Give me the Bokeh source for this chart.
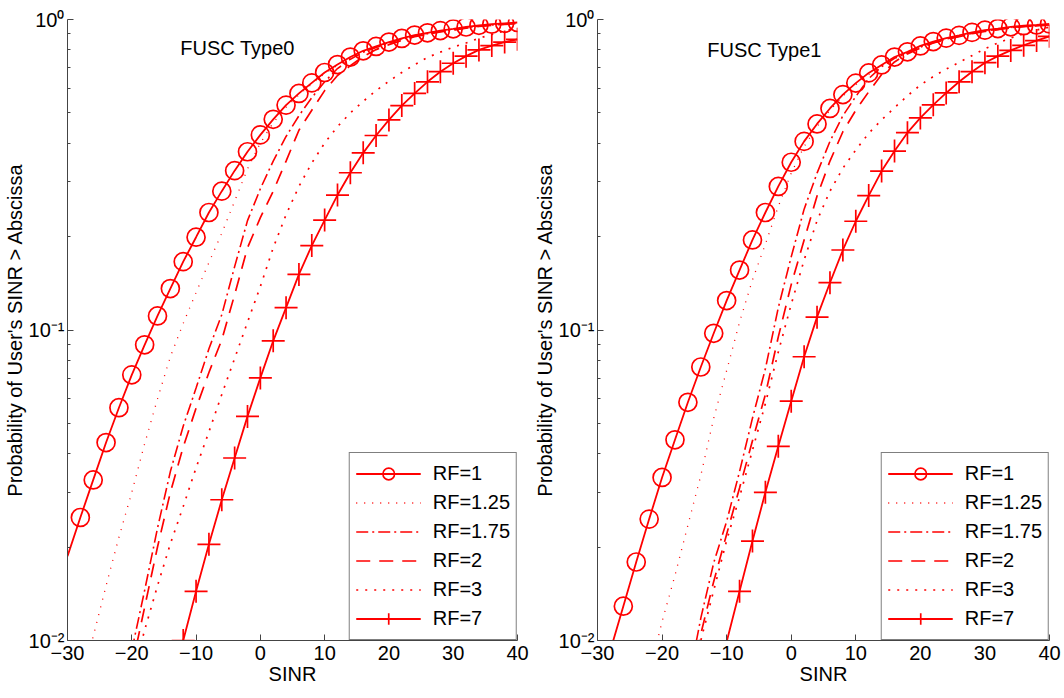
from bokeh.plotting import figure
from bokeh.models import Range1d, FixedTicker, Label, CustomJSTickFormatter
from bokeh.layouts import row
from bokeh.embed import file_html
from bokeh.resources import INLINE

FONT = "Liberation Sans"
RED = "#ff0000"

# ---------------- data ----------------
X_TICKS = [-30, -20, -10, 0, 10, 20, 30, 40]
Y_TICKS = [0.01, 0.1, 1.0]
Y_TICK_LABELS = ["10\u207b\u00b2", "10\u207b\u00b9", "10\u2070"]
Y_MINOR = [0.02, 0.03, 0.04, 0.05, 0.06, 0.07, 0.08, 0.09,
           0.2, 0.3, 0.4, 0.5, 0.6, 0.7, 0.8, 0.9]
LABELS = ["RF=1", "RF=1.25", "RF=1.75", "RF=2", "RF=3", "RF=7"]
TITLES = ["FUSC Type0", "FUSC Type1"]
X_LABEL = "SINR"
Y_LABEL = "Probability of User's SINR > Abscissa"

# FUSC Type0
t0_x_rf1 = list(range(-30, 42, 2))
t0_rf1 = [0.0187, 0.0249, 0.0329, 0.0434, 0.0562, 0.0717, 0.0896, 0.111, 0.136, 0.166,
          0.199, 0.239, 0.280, 0.326, 0.375, 0.425, 0.477, 0.530, 0.578, 0.625,
          0.675, 0.716, 0.757, 0.793, 0.819, 0.846, 0.869, 0.891, 0.906, 0.921,
          0.933, 0.946, 0.958, 0.966, 0.972, 0.978]
t0_x_rf125 = list(range(-28, 42, 2))
t0_rf125 = [0.0072, 0.0103, 0.0150, 0.0215, 0.030, 0.043, 0.060, 0.082, 0.105, 0.132,
            0.165, 0.205, 0.26, 0.33, 0.40, 0.465, 0.522, 0.572, 0.62, 0.67,
            0.711, 0.752, 0.788, 0.815, 0.842, 0.865, 0.887, 0.902, 0.917, 0.929,
            0.942, 0.954, 0.962, 0.968, 0.974]
t0_x_rf175 = list(range(-20, 42, 2))
t0_rf175 = [0.0093, 0.0145, 0.023, 0.035, 0.049, 0.065, 0.087, 0.112, 0.160, 0.225,
            0.285, 0.35, 0.42, 0.49, 0.56, 0.63, 0.695, 0.745, 0.785, 0.812,
            0.84, 0.863, 0.885, 0.9, 0.915, 0.927, 0.94, 0.952, 0.96, 0.966, 0.972]
t0_x_rf2 = list(range(-20, 42, 2))
t0_rf2 = [0.0082, 0.0128, 0.020, 0.030, 0.042, 0.056, 0.073, 0.093, 0.13, 0.184,
          0.23, 0.28, 0.35, 0.44, 0.51, 0.59, 0.66, 0.71, 0.76, 0.80,
          0.83, 0.856, 0.88, 0.896, 0.912, 0.925, 0.938, 0.95, 0.958, 0.964, 0.97]
t0_x_rf3 = list(range(-20, 42, 2))
t0_rf3 = [0.0075, 0.0108, 0.0150, 0.0205, 0.027, 0.036, 0.047, 0.062, 0.081, 0.106,
          0.138, 0.184, 0.235, 0.29, 0.345, 0.40, 0.452, 0.50, 0.545, 0.59,
          0.633, 0.675, 0.715, 0.755, 0.785, 0.815, 0.84, 0.87, 0.895, 0.92, 0.94]
t0_x_rf7 = list(range(-12, 42, 2))
t0_rf7 = [0.0100, 0.0144, 0.0204, 0.0284, 0.0387, 0.0527, 0.0701, 0.0923, 0.118, 0.151,
          0.187, 0.226, 0.272, 0.321, 0.372, 0.423, 0.475, 0.528, 0.578, 0.630,
          0.679, 0.723, 0.762, 0.798, 0.824, 0.846, 0.863]

# FUSC Type1
t1_x_rf1 = list(range(-28, 42, 2))
t1_rf1 = [0.0093, 0.0129, 0.0179, 0.0246, 0.0335, 0.0443, 0.0585, 0.076, 0.0976, 0.1244,
          0.156, 0.195, 0.239, 0.290, 0.347, 0.405, 0.461, 0.517, 0.573, 0.624,
          0.673, 0.714, 0.757, 0.787, 0.822, 0.849, 0.871, 0.889, 0.909, 0.924,
          0.935, 0.947, 0.955, 0.960, 0.968]
t1_x_rf125 = list(range(-22, 42, 2))
t1_rf125 = [0.0078, 0.0115, 0.0162, 0.0235, 0.034, 0.052, 0.074, 0.106, 0.145, 0.189,
            0.25, 0.32, 0.39, 0.452, 0.51, 0.566, 0.617, 0.665, 0.707, 0.75,
            0.781, 0.816, 0.843, 0.866, 0.884, 0.904, 0.919, 0.93, 0.942, 0.95,
            0.955, 0.963]
t1_x_rf175 = list(range(-16, 42, 2))
t1_rf175 = [0.0072, 0.0118, 0.0178, 0.0242, 0.035, 0.052, 0.075, 0.118, 0.172, 0.245,
            0.32, 0.405, 0.49, 0.565, 0.645, 0.705, 0.75, 0.78, 0.815, 0.842,
            0.865, 0.883, 0.902, 0.918, 0.929, 0.941, 0.949, 0.954, 0.962]
t1_x_rf2 = list(range(-16, 42, 2))
t1_rf2 = [0.0065, 0.0105, 0.0155, 0.022, 0.031, 0.044, 0.062, 0.095, 0.14, 0.195,
          0.27, 0.35, 0.435, 0.51, 0.585, 0.665, 0.73, 0.775, 0.81, 0.84,
          0.862, 0.88, 0.9, 0.915, 0.927, 0.94, 0.948, 0.954, 0.96]
t1_x_rf3 = list(range(-16, 42, 2))
t1_rf3 = [0.0068, 0.0100, 0.0145, 0.021, 0.029, 0.041, 0.058, 0.085, 0.121, 0.168,
          0.225, 0.28, 0.332, 0.38, 0.43, 0.475, 0.52, 0.568, 0.615, 0.655,
          0.692, 0.728, 0.765, 0.805, 0.84, 0.872, 0.9, 0.925, 0.945]
t1_x_rf7 = list(range(-10, 42, 2))
t1_rf7 = [0.0099, 0.0144, 0.0209, 0.030, 0.0422, 0.059, 0.082, 0.110, 0.142, 0.181,
          0.224, 0.271, 0.325, 0.377, 0.432, 0.482, 0.531, 0.580, 0.630, 0.679,
          0.726, 0.762, 0.795, 0.826, 0.855, 0.883]

PANELS = [
    dict(title=TITLES[0],
         series=[(t0_x_rf1, t0_rf1), (t0_x_rf125, t0_rf125), (t0_x_rf175, t0_rf175),
                 (t0_x_rf2, t0_rf2), (t0_x_rf3, t0_rf3), (t0_x_rf7, t0_rf7)],
         rf1_mark_from=1, rf7_mark_from=0,
         width=530, height=698, bl=66, br=13, bt=16, bb=58,
         title_xy=(-12.46, 0.807)),
    dict(title=TITLES[1],
         series=[(t1_x_rf1, t1_rf1), (t1_x_rf125, t1_rf125), (t1_x_rf175, t1_rf175),
                 (t1_x_rf2, t1_rf2), (t1_x_rf3, t1_rf3), (t1_x_rf7, t1_rf7)],
         rf1_mark_from=1, rf7_mark_from=1,
         width=534, height=698, bl=60, br=15, bt=19, bb=54,
         title_xy=(-13.0, 0.80)),
]

STYLES = [
    dict(line_dash="solid", line_width=1.8),
    dict(line_dash="1 7", line_width=1.3),
    dict(line_dash="12 4 2 4", line_width=1.6),
    dict(line_dash="14 9", line_width=1.7),
    dict(line_dash="2 7", line_width=1.7),
    dict(line_dash="solid", line_width=1.8),
]


def make_panel(cfg):
    p = figure(width=cfg["width"], height=cfg["height"], y_axis_type="log",
               x_range=Range1d(-30, 40), y_range=Range1d(0.01, 1.0),
               output_backend="svg", toolbar_location=None,
               min_border_left=cfg["bl"], min_border_right=cfg["br"],
               min_border_top=cfg["bt"], min_border_bottom=cfg["bb"])
    p.outline_line_color = None
    p.background_fill_color = "white"
    p.border_fill_color = "white"
    p.grid.visible = False

    for i, ((xs, ys), lab, st) in enumerate(zip(cfg["series"], LABELS, STYLES)):
        p.line(xs, ys, line_color=RED, legend_label=lab, **st)
        if i == 0:
            k = cfg["rf1_mark_from"]
            p.scatter(xs[k:], ys[k:], marker="circle", size=18, fill_color=None,
                      line_color=RED, line_width=1.7, legend_label=lab)
        if i == 5:
            k = cfg["rf7_mark_from"]
            p.scatter(xs[k:], ys[k:], marker="cross", size=23,
                      line_color=RED, line_width=1.7, legend_label=lab)

    for ax in (p.xaxis[0], p.yaxis[0]):
        ax.axis_line_color = "#444444"
        ax.major_tick_line_color = "#444444"
        ax.minor_tick_line_color = "#444444"
        ax.major_tick_in = 6
        ax.major_tick_out = 0
        ax.minor_tick_in = 3
        ax.minor_tick_out = 0
        ax.major_label_text_font = FONT
        ax.major_label_text_font_size = "20px"
        ax.major_label_text_color = "black"
        ax.axis_label_text_font = FONT
        ax.axis_label_text_font_style = "normal"
        ax.axis_label_text_color = "black"
        ax.axis_label_standoff = 0
    p.xaxis.ticker = FixedTicker(ticks=X_TICKS, minor_ticks=[])
    p.xaxis.major_label_standoff = 5
    p.xaxis.major_label_overrides = {t: str(t).replace("-", "\u2212") for t in X_TICKS}
    p.xaxis.axis_label = X_LABEL
    p.xaxis.axis_label_text_font_size = "20px"
    p.yaxis.ticker = FixedTicker(ticks=Y_TICKS, minor_ticks=Y_MINOR)
    p.yaxis.major_label_standoff = 3
    p.yaxis.formatter = CustomJSTickFormatter(
        args=dict(tick_vals=Y_TICKS, tick_texts=Y_TICK_LABELS),
        code="""
        for (let i = 0; i < tick_vals.length; i++) {
            if (Math.abs(Math.log10(tick) - Math.log10(tick_vals[i])) < 1e-6) return tick_texts[i];
        }
        return '';
        """)
    p.yaxis.axis_label = Y_LABEL
    p.yaxis.axis_label_text_font_size = "20px"

    tx, ty = cfg["title_xy"]
    p.add_layout(Label(x=tx, y=ty, text=cfg["title"], text_font=FONT,
                       text_font_size="20px", text_color="black",
                       text_baseline="alphabetic", text_align="left"))

    lg = p.legend[0]
    lg.location = "bottom_right"
    lg.margin = 0
    lg.padding = 6
    lg.spacing = 0
    lg.label_height = 29
    lg.glyph_height = 29
    lg.glyph_width = 65
    lg.label_standoff = 12
    lg.label_text_font = FONT
    lg.label_text_font_size = "20px"
    lg.label_text_color = "black"
    lg.border_line_color = "black"
    lg.border_line_width = 1
    lg.background_fill_color = "white"
    lg.background_fill_alpha = 1.0
    return p


plots = [make_panel(c) for c in PANELS]
layout = row(*plots, spacing=0)
open("out.html", "w").write(file_html(layout, INLINE))
